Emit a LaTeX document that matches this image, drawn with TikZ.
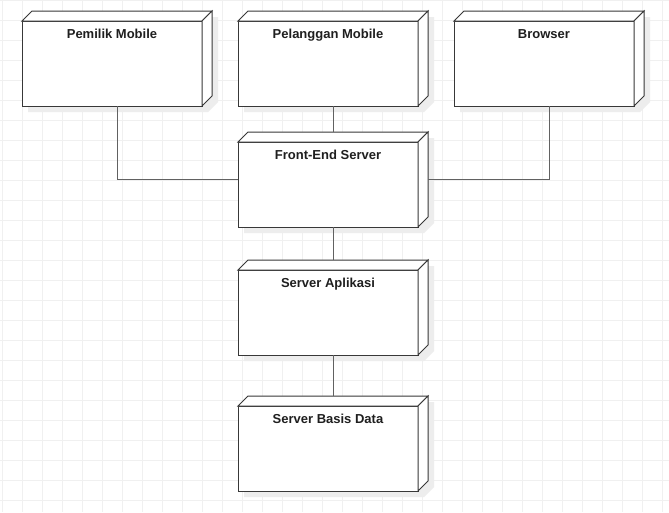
\documentclass[tikz,border=0pt]{standalone}
\usepackage{fontspec}
\setmainfont{Liberation Sans}
\usetikzlibrary{calc}
\tikzset{
  gridline/.style={draw=black!6, line width=1pt},
  fullbox/.style={draw=none, minimum width=190pt, minimum height=95pt, inner sep=0pt, outer sep=0pt, anchor=north west},
  face/.style={draw=black!78, fill=white, line width=1pt, line join=miter},
  shade3d/.style={fill=black!7},
  conn/.style={draw=black!62, line width=1pt},
  lbl/.style={font=\fontsize{13}{15}\selectfont\bfseries, text=black!88, anchor=base, inner sep=0pt}
}
\newcommand\depnode[4]{%
  \node[fullbox] (#1) at (#2,#3) {};
  \fill[shade3d] ($(#1.south west)+(6,6)$) -- ($(#1.north west)+(6,16)$) -- ($(#1.north west)+(16,6)$) -- ($(#1.north east)+(6,6)$) -- ($(#1.south east)+(6,-4)$) -- ($(#1.south east)+(-4,6)$) -- cycle;
  \path[face] (#1.south west) rectangle ($(#1.north east)+(-10,10)$);
  \path[face] ($(#1.north west)+(0,10)$) -- ($(#1.north west)+(10,0)$) -- (#1.north east) -- ($(#1.north east)+(-10,10)$) -- cycle;
  \path[face] ($(#1.north east)+(-10,10)$) -- (#1.north east) -- ($(#1.south east)+(0,-10)$) -- ($(#1.south east)+(-10,0)$) -- cycle;
  \node[lbl] (#1-label) at ($(#1.north west)+(90,27)$) {#4};
}
\begin{document}
\begin{tikzpicture}[x=1pt,y=-1pt]
\useasboundingbox (0,0) rectangle (669,512);
\fill[white] (0,0) rectangle (669,512);
\foreach \gx in {0,...,33} \draw[gridline] ({2.7+20*\gx},0) -- ++(0,512);
\foreach \gy in {0,...,25} \draw[gridline] (0,{0.5+20*\gy}) -- ++(669,0);
\depnode{pm}{22}{11}{Pemilik Mobile}
\depnode{pl}{238}{11}{Pelanggan Mobile}
\depnode{br}{454}{11}{Browser}
\depnode{fe}{238}{132}{Front-End Server}
\depnode{sa}{238}{260}{Server Aplikasi}
\depnode{db}{238}{396}{Server Basis Data}
\draw[conn] (pm.south) |- (fe.west);
\draw[conn] (pl.south) -- (fe.north);
\draw[conn] (br.south) |- (fe.east);
\draw[conn] (fe.south) -- (sa.north);
\draw[conn] (sa.south) -- (db.north);
\end{tikzpicture}
\end{document}
